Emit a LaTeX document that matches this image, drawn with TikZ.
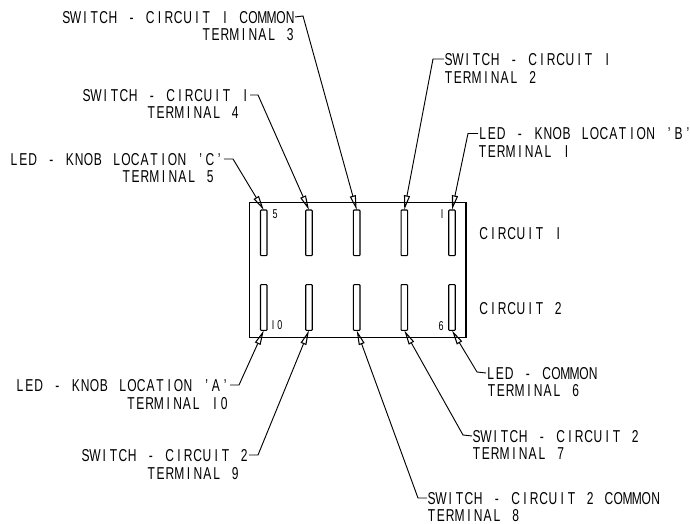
\documentclass[tikz,border=0pt]{standalone}
\usepackage{fontspec}
\usetikzlibrary{arrows.meta}
\newfontfamily\cadfont[FakeStretch=0.7]{Liberation Sans}
\ExplSyntaxOn
\NewDocumentCommand{\tx}{m}{\str_map_inline:nn {#1}{\makebox[7pt][c]{##1}}}
\NewDocumentCommand{\txs}{m}{\str_map_inline:nn {#1}{\makebox[5.2pt][c]{##1}}}
\ExplSyntaxOff
\tikzset{
  x=0.75pt,y=-0.75pt,
  lab/.style={inner sep=0pt,outer sep=0pt,text height=9.2pt,text depth=0pt,font=\cadfont\fontsize{12.9}{14}\selectfont},
  labr/.style={lab,anchor=east},
  labl/.style={lab,anchor=west},
  num/.style={inner sep=0pt,outer sep=0pt,font=\cadfont\fontsize{9.6}{11}\selectfont},
  term/.style={draw=black,line width=0.8pt,rounded corners=0.6pt,minimum width=4.9pt,minimum height=34.3pt,inner sep=0pt,outer sep=0pt},
  lead/.style={draw=black,line width=0.7pt,-{Triangle[open,length=11pt,width=4.5pt,line width=0.8pt]}},
}
\begin{document}
\begin{tikzpicture}
\useasboundingbox (0,0) rectangle (690,524);
\node[draw=black,line width=0.9pt,minimum width=162.4pt,minimum height=101pt,inner sep=0pt,outer sep=0pt] (body) at (357.75,270) {};
% terminals
\node[term] (t5) at (263.75,232.85) {};
\node[term] (t4) at (309,232.85) {};
\node[term] (t3) at (356.7,232.85) {};
\node[term] (t2) at (404.3,232.85) {};
\node[term] (t1) at (452,232.85) {};
\node[term] (t10) at (263.75,307.5) {};
\node[term] (t9) at (309,307.5) {};
\node[term] (t8) at (356.7,307.5) {};
\node[term] (t7) at (404.3,307.5) {};
\node[term] (t6) at (452,307.5) {};
% small numbers
\node[num] (n5) at (275,214) {\txs{5}};
\node[num] (n1) at (442,214) {\txs{I}};
\node[num] (n10) at (276.5,325) {\txs{I0}};
\node[num] (n6) at (441,326) {\txs{6}};
% circuit labels
\node[labl] (c1) at (479,233) {\tx{CIRCUIT I}};
\node[labl] (c2) at (479,308) {\tx{CIRCUIT 2}};
% top labels
\node[labr] (l3a) at (295,17) {\tx{SWITCH - CIRCUIT I COMMON}};
\node[labr] (l3b) at (295,34) {\tx{TERMINAL 3}};
\node[labr] (l4a) at (250,95) {\tx{SWITCH - CIRCUIT I}};
\node[labr] (l4b) at (240,112.5) {\tx{TERMINAL 4}};
\node[labr] (l5a) at (224,159) {\tx{LED - KNOB LOCATION ’C’}};
\node[labr] (l5b) at (215,176) {\tx{TERMINAL 5}};
\node[labl] (l2a) at (444,59) {\tx{SWITCH - CIRCUIT I}};
\node[labl] (l2b) at (444,77) {\tx{TERMINAL 2}};
\node[labl] (l1a) at (478,133.5) {\tx{LED - KNOB LOCATION ’B’}};
\node[labl] (l1b) at (478,151) {\tx{TERMINAL I}};
% bottom labels
\node[labr] (l10a) at (230,385) {\tx{LED - KNOB LOCATION ’A’}};
\node[labr] (l10b) at (229,403) {\tx{TERMINAL I0}};
\node[labr] (l9a) at (249,455) {\tx{SWITCH - CIRCUIT 2}};
\node[labr] (l9b) at (240,473) {\tx{TERMINAL 9}};
\node[labl] (l6a) at (486,373) {\tx{LED - COMMON}};
\node[labl] (l6b) at (487,390) {\tx{TERMINAL 6}};
\node[labl] (l7a) at (472,436) {\tx{SWITCH - CIRCUIT 2}};
\node[labl] (l7b) at (472,453) {\tx{TERMINAL 7}};
\node[labl] (l8a) at (427,498) {\tx{SWITCH - CIRCUIT 2 COMMON}};
\node[labl] (l8b) at (427,515) {\tx{TERMINAL 8}};
% elbows
\coordinate (e3) at (303,16);
\coordinate (e4) at (258,95);
\coordinate (e5) at (233,159);
\coordinate (e2) at (433,59);
\coordinate (e1) at (468,133.5);
\coordinate (e10) at (239,385);
\coordinate (e9) at (258,455);
\coordinate (e6) at (477,372);
\coordinate (e7) at (463,435);
\coordinate (e8) at (418,498);
% leaders
\draw[lead] (l3a.east) -- (e3) -- (t3.north);
\draw[lead] (l4a.east) -- (e4) -- (t4.north);
\draw[lead] (l5a.east) -- (e5) -- (t5.north);
\draw[lead] (l2a.west) -- (e2) -- (t2.north);
\draw[lead] (l1a.west) -- (e1) -- (t1.north);
\draw[lead] (l10a.east) -- (e10) -- (t10.south);
\draw[lead] (l9a.east) -- (e9) -- (t9.south);
\draw[lead] (l6a.west) -- (e6) -- (t6.south);
\draw[lead] (l7a.west) -- (e7) -- (t7.south);
\draw[lead] (l8a.west) -- (e8) -- (t8.south);
\end{tikzpicture}
\end{document}
